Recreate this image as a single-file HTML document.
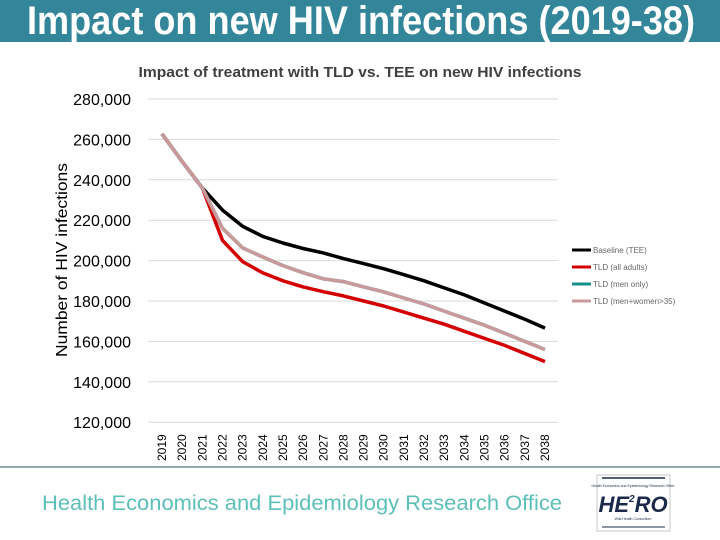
<!DOCTYPE html>
<html><head><meta charset="utf-8"><style>
html,body{margin:0;padding:0;background:#fff;}
svg{display:block;font-family:"Liberation Sans",sans-serif;}
</style></head><body>
<svg id="chart" width="720" height="540" viewBox="0 0 720 540">
<rect x="0" y="0" width="720" height="42" fill="#33869a"/>
<text x="361" y="34" text-anchor="middle" font-size="40" font-weight="bold" fill="#fff" textLength="668" lengthAdjust="spacingAndGlyphs">Impact on new HIV infections (2019-38)</text>
<text x="360" y="77" text-anchor="middle" font-size="14.5" font-weight="bold" fill="#404040" textLength="443" lengthAdjust="spacingAndGlyphs">Impact of treatment with TLD vs. TEE on new HIV infections</text>
<text transform="translate(67,260) rotate(-90)" text-anchor="middle" font-size="16" fill="#000" textLength="194" lengthAdjust="spacingAndGlyphs">Number of HIV infections</text>
<g id="grid"></g><g id="yticks"></g><g id="xticks"></g><g id="series"></g>
<g id="legend" font-size="8" fill="#666"></g>
<line x1="0" y1="467" x2="720" y2="467" stroke="#6f8f97" stroke-width="1.5"/>
<text x="302" y="510" text-anchor="middle" font-size="21" fill="#5cc0b8" textLength="520" lengthAdjust="spacingAndGlyphs">Health Economics and Epidemiology Research Office</text>
<g>
<rect x="597" y="475" width="73" height="56" fill="#fff" stroke="#bbb" stroke-width="0.8"/>
<line x1="602" y1="478" x2="665" y2="478" stroke="#1b2a4a" stroke-width="1.5"/>
<text x="633" y="487" text-anchor="middle" font-size="3.5" fill="#1b2a4a">Health Economics and Epidemiology Research Office</text>
<text x="633" y="512" text-anchor="middle" font-size="22" font-weight="bold" font-style="italic" fill="#1b2a4a">HE<tspan font-size="10" dy="-10">2</tspan><tspan dy="10">RO</tspan></text>
<text x="633" y="520" text-anchor="middle" font-size="3.5" fill="#1b2a4a">Wits Health Consortium</text>
<line x1="602" y1="527" x2="665" y2="527" stroke="#1b2a4a" stroke-width="1"/>
</g>
</svg>
<script>
const years = [2019,2020,2021,2022,2023,2024,2025,2026,2027,2028,2029,2030,2031,2032,2033,2034,2035,2036,2037,2038];
const baseline = [262.7,249,236,225,217,212,208.7,206,203.8,201,198.5,196,193,190,186.5,183,179,175,171,166.6];
const tldAll = [262.7,249,236,210,199.5,193.9,190,187,184.6,182.5,180,177.5,174.5,171.5,168.5,165,161.5,158,154,150];
const tldMen = [262.7,249,236,216,206.3,201.8,197.5,194,191,189.6,187,184.5,181.5,178.5,175,171.5,168,164,160,156];
const tldMenWomen = [262.7,249,236,216,206.3,201.8,197.5,194,191,189.6,187,184.5,181.5,178.5,175,171.5,168,164,160,156];
const yTicks = [120,140,160,180,200,220,240,260,280];
const legendLabels = ["Baseline (TEE)","TLD (all adults)","TLD (men only)","TLD (men+women>35)"];
const NS="http://www.w3.org/2000/svg";
function x(i){return 162+i*(545-162)/19;}
function y(v){return 99+(280-v)/20*40.4;}
function mk(t,a,p){const e=document.createElementNS(NS,t);for(const k in a)e.setAttribute(k,a[k]);p.appendChild(e);return e;}
const grid=document.getElementById('grid'),yt=document.getElementById('yticks'),xt=document.getElementById('xticks'),ser=document.getElementById('series'),lg=document.getElementById('legend');
yTicks.forEach(v=>{
 const l=mk('line',{x1:148,x2:558,y1:y(v),y2:y(v),stroke:'#d9d9d9','stroke-width':1},grid);
 
 
 const t=mk('text',{x:131,y:y(v)+6,'text-anchor':'end','font-size':16,fill:'#000'},yt);
 t.textContent=v+',000';
 
 
});
years.forEach((yr,i)=>{
 const t=mk('text',{transform:'translate('+(x(i)+4)+',461) rotate(-90)','font-size':12,fill:'#000'},xt);
 t.textContent=yr;
 
 
});
const series=[[baseline,'#000','baseline-line'],[tldAll,'#d40000','tld-all-adults-line'],[tldMen,'#14908c','tld-men-only-line'],[tldMenWomen,'#c9999b','tld-men-women-line']];
series.forEach(s=>{
 const d=s[0].map((v,i)=>(i?'L':'M')+x(i).toFixed(1)+','+y(v).toFixed(1)).join(' ');
 const p=mk('path',{d:d,fill:'none',stroke:s[1],'stroke-width':3.5,'stroke-linejoin':'round'},ser);
 
 
});
legendLabels.forEach((lab,i)=>{
 const yy=250+i*17;
 const l=mk('line',{x1:572,x2:591,y1:yy,y2:yy,stroke:series[i][1],'stroke-width':3},lg);
 
 
 const t=mk('text',{x:593,y:yy+3},lg);
 t.textContent=lab;
 
 
});
</script>
</body></html>
